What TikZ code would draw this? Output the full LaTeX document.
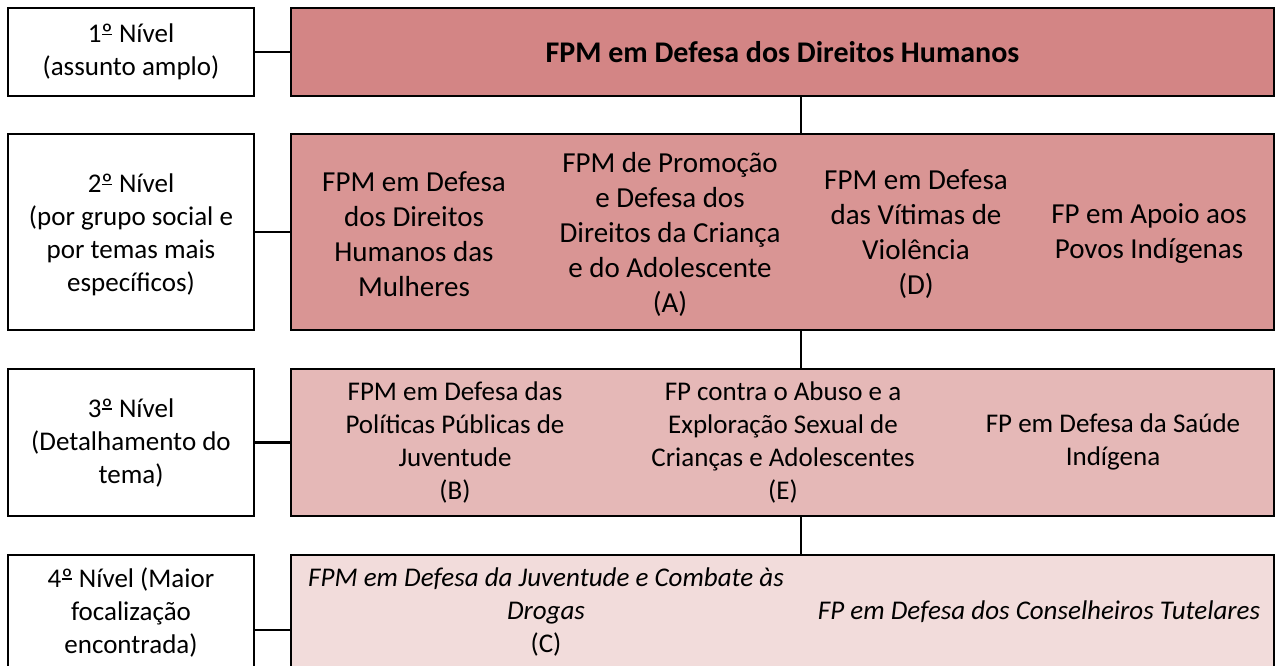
\documentclass[tikz,border=0pt]{standalone}
\usepackage{fontspec}
\setmainfont{Carlito}
\definecolor{cA}{RGB}{211,133,133}
\definecolor{cB}{RGB}{217,149,148}
\definecolor{cC}{RGB}{229,184,183}
\definecolor{cD}{RGB}{242,220,219}
\newsavebox\ordbox
\newcommand{\ordo}{\sbox\ordbox{º}\makebox[0pt][l]{\usebox\ordbox}\raisebox{0.27em}{\hspace{0.02em}\rule{\dimexpr\wd\ordbox-0.04em\relax}{0.05em}\hspace{0.02em}}}
\begin{document}
\begin{tikzpicture}[x=1pt,y=-1pt,
  frame/.style={draw=black, line width=2.7pt, inner sep=0pt, outer sep=0pt},
  lbox/.style={frame, fill=white, minimum width=246pt, align=center,
    font=\fontsize{27}{33}\selectfont},
  pbox/.style={frame, minimum width=983pt},
  txtB/.style={align=center, inner sep=0pt, font=\fontsize{29}{35}\selectfont},
  txtC/.style={align=center, inner sep=0pt, font=\fontsize{27}{33}\selectfont},
  txtD/.style={align=center, inner sep=0pt, font=\fontsize{27}{33}\selectfont\itshape},
  conn/.style={draw=black, line width=2.7pt}]
\useasboundingbox (0,0) rectangle (1277,666);
\clip (0,0) rectangle (1277,666);
% left boxes
\node[lbox, minimum height=88pt] (l1) at (131,52) {1\ordo{} Nível\\(assunto amplo)};
\node[lbox, minimum height=196pt] (l2) at (131,232) {};
\node[txtC] (l2t) at (131,235) {2\ordo{} Nível\\(por grupo social e\\por temas mais\\específicos)};
\node[lbox, minimum height=147pt] (l3) at (131,442.5) {3\ordo{} Nível\\(Detalhamento do\\tema)};
\node[lbox, minimum height=150pt] (l4) at (131,630) {};
\node[txtC] (l4t) at (131,612) {4\ordo{} Nível (Maior\\focalização\\encontrada)};
% right boxes
\node[pbox, fill=cA, minimum height=88pt, font=\fontsize{30}{36}\selectfont\bfseries] (p1) at (782.5,52) {FPM em Defesa dos Direitos Humanos};
\node[pbox, fill=cB, minimum height=196pt] (p2) at (782.5,232) {};
\node[pbox, fill=cC, minimum height=147pt] (p3) at (782.5,442.5) {};
\node[pbox, fill=cD, minimum height=150pt] (p4) at (782.5,630) {};
% level 2 texts
\node[txtB] (a1) at (414,234) {FPM em Defesa\\dos Direitos\\Humanos das\\Mulheres};
\node[txtB] (a2) at (670,234) {FPM de Promoção\\e Defesa dos\\Direitos da Criança\\e do Adolescente\\(A)};
\node[txtB] (a3) at (916,234) {FPM em Defesa\\das Vítimas de\\Violência\\(D)};
\node[txtB] (a4) at (1149,234) {FP em Apoio aos\\Povos Indígenas};
% level 3 texts
\node[txtC] (b1) at (455,442) {FPM em Defesa das\\Políticas Públicas de\\Juventude\\(B)};
\node[txtC] (b2) at (783,442) {FP contra o Abuso e a\\Exploração Sexual de\\Crianças e Adolescentes\\(E)};
\node[txtC] (b3) at (1113,442) {FP em Defesa da Saúde\\Indígena};
% level 4 texts
\node[txtD] (c1) at (546,612) {FPM em Defesa da Juventude e Combate às\\Drogas\\\upshape(C)};
\node[txtD] (c2) at (1039,612) {FP em Defesa dos Conselheiros Tutelares};
% connectors
\coordinate (v) at (801,0);
\draw[conn] (l1.east) -- (l1.east -| p1.west);
\draw[conn] (l2.east) -- (l2.east -| p2.west);
\draw[conn] (l3.east) -- (l3.east -| p3.west);
\draw[conn] (l4.east) -- (l4.east -| p4.west);
\draw[conn] (p1.south -| v) -- (p2.north -| v);
\draw[conn] (p2.south -| v) -- (p3.north -| v);
\draw[conn] (p3.south -| v) -- (p4.north -| v);
\end{tikzpicture}
\end{document}
